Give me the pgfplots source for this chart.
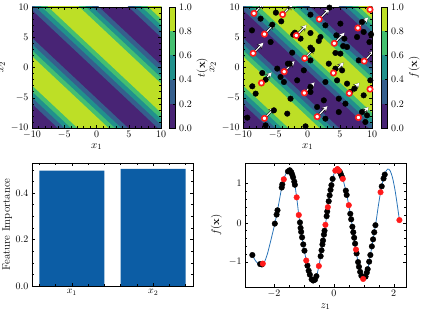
\documentclass[border=0pt]{standalone}
\usepackage{pgfplots}
\pgfplotsset{compat=1.18}
\usetikzlibrary{arrows.meta}
\definecolor{vA}{HTML}{482475}
\definecolor{vB}{HTML}{355F8D}
\definecolor{vC}{HTML}{21918C}
\definecolor{vD}{HTML}{44BF70}
\definecolor{vE}{HTML}{BDDF26}
\definecolor{barblue}{HTML}{0C5DA5}
\definecolor{lineblue}{HTML}{2A74B8}
\definecolor{ptred}{HTML}{FF1A1A}

\pgfplotsset{
  base/.style={scale only axis, axis on top, tick align=inside,
    font=\fontsize{10}{11}\selectfont,
    ticklabel style={font=\fontsize{10}{11}\selectfont},
    label style={font=\fontsize{11}{12}\selectfont},
    major tick length=3bp, minor tick length=1.6bp,
    tick style={black, line width=0.4pt}},
  contourax/.style={base, width=129bp, height=121bp,
    xmin=-10, xmax=10, ymin=-10, ymax=10,
    xtick={-10,-5,0,5,10}, ytick={-10,-5,0,5,10}, minor tick num=4,
    xlabel={$x_1$}, ylabel={$x_2$},
    xlabel style={yshift=2bp}, ylabel style={yshift=-1bp}},
  cbar/.style={base, width=6.5bp, height=121bp,
    xmin=0, xmax=1, ymin=0, ymax=1, xtick=\empty,
    ytick={0,0.2,0.4,0.6,0.8,1}, ytick pos=right, yticklabel pos=right,
    minor tick num=0, ylabel style={yshift=2bp},
    yticklabel style={/pgf/number format/.cd, fixed, fixed zerofill, precision=1}},
}

\newcommand{\bands}{%
  \addplot[fill=vA, draw=none] coordinates {(-10,-10) (10,-10) (10,10) (-10,10)} -- cycle;
  % band around s = -10.55
  \addplot[fill=vB, draw=none] coordinates {(-10,-6.0) (-10,4.9) (10,-15.1) (10,-26.0)} -- cycle;
  \addplot[fill=vC, draw=none] coordinates {(-10,-4.95) (-10,3.85) (10,-16.15) (10,-24.95)} -- cycle;
  \addplot[fill=vD, draw=none] coordinates {(-10,-3.95) (-10,2.85) (10,-17.15) (10,-23.95)} -- cycle;
  \addplot[fill=vE, draw=none] coordinates {(-10,-2.95) (-10,1.85) (10,-18.15) (10,-22.95)} -- cycle;
  % band around s = 4.95
  \addplot[fill=vB, draw=none] coordinates {(-10,9.5) (-10,20.4) (10,0.4) (10,-10.5)} -- cycle;
  \addplot[fill=vC, draw=none] coordinates {(-10,10.55) (-10,19.35) (10,-0.65) (10,-9.45)} -- cycle;
  \addplot[fill=vD, draw=none] coordinates {(-10,11.55) (-10,18.35) (10,-1.65) (10,-8.45)} -- cycle;
  \addplot[fill=vE, draw=none] coordinates {(-10,12.55) (-10,17.35) (10,-2.65) (10,-7.45)} -- cycle;
  % band around s = 20.45
  \addplot[fill=vB, draw=none] coordinates {(-10,25) (-10,35.9) (10,15.9) (10,5.0)} -- cycle;
  \addplot[fill=vC, draw=none] coordinates {(-10,26.05) (-10,34.85) (10,14.85) (10,6.05)} -- cycle;
  \addplot[fill=vD, draw=none] coordinates {(-10,27.05) (-10,33.85) (10,13.85) (10,7.05)} -- cycle;
  \addplot[fill=vE, draw=none] coordinates {(-10,28.05) (-10,32.85) (10,12.85) (10,8.05)} -- cycle;
}
\newcommand{\cbarfill}{%
  \addplot[fill=vA, draw=none] coordinates {(0,0) (1,0) (1,0.2) (0,0.2)} -- cycle;
  \addplot[fill=vB, draw=none] coordinates {(0,0.2) (1,0.2) (1,0.4) (0,0.4)} -- cycle;
  \addplot[fill=vC, draw=none] coordinates {(0,0.4) (1,0.4) (1,0.6) (0,0.6)} -- cycle;
  \addplot[fill=vD, draw=none] coordinates {(0,0.6) (1,0.6) (1,0.8) (0,0.8)} -- cycle;
  \addplot[fill=vE, draw=none] coordinates {(0,0.8) (1,0.8) (1,1) (0,1)} -- cycle;
}

\pgfplotstableread{
x y
-7.27 8.07
-8.61 6.14
-4.07 7.63
-4.90 9.06
0.46 8.73
2.78 6.97
3.40 9.90
5.10 7.25
8.45 7.52
9.85 5.48
-5.72 4.21
-1.96 5.76
-2.22 5.43
-1.08 4.77
0.46 5.70
2.01 5.04
1.75 4.38
4.48 5.32
5.72 4.77
5.52 3.55
6.13 3.39
4.33 2.40
5.10 2.29
0.46 3.28
0.72 2.95
-2.37 2.45
7.68 5.04
8.71 5.87
7.94 1.18
9.60 4.20
-4.69 -0.19
-3.04 0.63
-2.78 0.63
-0.57 -0.47
0.46 1.18
3.30 0.63
4.33 -0.19
5.36 -0.47
-7.01 -0.91
-6.49 -2.01
-8.56 -3.11
-4.18 -1.57
-3.66 -2.40
-1.60 -2.12
0.46 -3.22
2.78 -2.40
4.59 -2.12
6.13 -2.67
7.27 -3.50
9.74 -2.12
-8.04 -4.32
-2.63 -5.15
0.46 -4.05
2.53 -5.43
4.85 -5.15
6.65 -4.05
8.71 -4.60
5.88 -5.98
1.49 -6.53
-3.14 -7.63
-5.21 -7.08
2.78 -8.46
4.85 -7.36
8.45 -7.36
9.23 -7.91
8.97 -9.01
-9.33 -8.29
-6.49 -9.56
-0.31 -9.72
-5.46 7.08
}\blackpts

\pgfplotstableread{
x y
-8.30 8.95
-3.86 8.76
1.82 7.98
9.69 9.58
-6.68 5.51
-1.73 5.29
7.81 6.53
-8.43 2.35
4.15 4.00
-0.44 1.52
8.79 1.05
-3.61 -0.69
4.02 -0.91
-7.14 -2.56
-0.49 -4.21
6.47 -4.27
9.69 -3.58
-6.68 -8.40
1.50 -8.13
7.89 -8.27
}\redpts

\pgfplotstableread{
z f
-2.72 -0.82
-2.46 -1.05
-2.40 -1.06
-1.97 -0.02
-1.91 0.21
-1.88 0.32
-1.74 0.90
-1.72 0.98
-1.53 1.31
-1.47 1.34
-1.42 1.29
-1.39 1.23
-1.36 1.16
-1.32 1.05
-1.30 0.97
-1.13 0.01
-1.11 -0.13
-1.09 -0.23
-1.06 -0.37
-1.02 -0.55
-0.98 -0.71
-0.88 -1.09
-0.84 -1.22
-0.80 -1.32
-0.74 -1.44
-0.69 -1.47
-0.63 -1.45
-0.58 -1.36
-0.44 -0.85
-0.41 -0.70
-0.38 -0.55
-0.36 -0.45
-0.33 -0.30
-0.31 -0.20
-0.24 0.17
-0.22 0.29
-0.17 0.55
-0.14 0.70
-0.11 0.84
-0.08 0.96
-0.04 1.12
0.13 1.36
0.20 1.30
0.24 1.23
0.28 1.16
0.40 0.82
0.43 0.71
0.55 0.23
0.58 0.09
0.62 -0.10
0.65 -0.24
0.68 -0.38
0.71 -0.53
0.76 -0.78
0.81 -1.00
0.84 -1.12
0.88 -1.25
0.92 -1.35
1.06 -1.37
1.10 -1.27
1.13 -1.18
1.18 -0.99
1.22 -0.82
1.27 -0.60
1.31 -0.42
1.35 -0.24
1.39 -0.06
1.60 0.93
1.66 1.13
1.70 1.23
}\blackline

\pgfplotstableread{
z f
-2.37 -1.04
-1.67 1.11
-1.24 0.65
-1.17 0.20
-0.92 -0.96
-0.50 -1.10
-0.28 -0.05
-0.20 0.40
0.05 1.33
0.12 1.37
0.17 1.33
0.30 1.12
0.50 0.45
0.74 -0.68
0.98 -1.43
1.56 0.78
2.19 0.07
}\redline

\begin{document}
\begin{tikzpicture}
\path[use as bounding box] (0,0) rectangle (422bp,313bp);

% ---------------- top left
\begin{axis}[contourax, at={(32bp,185bp)}, anchor=south west]
\bands
\end{axis}
\begin{axis}[cbar, at={(169bp,185bp)}, anchor=south west, ylabel={$t(\mathbf{x})$}]
\cbarfill
\end{axis}

% ---------------- top right
\begin{axis}[contourax, at={(243bp,185bp)}, anchor=south west]
\bands
\addplot[only marks, mark=*, mark size=2.8pt, black] table {\blackpts};
\addplot[only marks, mark=*, mark size=2.7pt, mark options={draw=ptred, fill=white, line width=1.6pt}] table {\redpts};
\addplot[black, line width=2.2pt, -{Stealth[length=6pt,width=6.4pt]}, quiver={u=1.6,v=1.75, every arrow/.append style={line width=2.2pt}}] table {\redpts};
\addplot[white, line width=1.1pt, -{Stealth[length=5pt,width=5pt]}, quiver={u=1.6,v=1.75, every arrow/.append style={line width=1.1pt}}] table {\redpts};
\end{axis}
\begin{axis}[cbar, at={(381bp,185bp)}, anchor=south west, ylabel={$f(\mathbf{x})$}]
\cbarfill
\end{axis}

% ---------------- bottom left
\begin{axis}[base, at={(32bp,27bp)}, anchor=south west, width=161bp, height=123bp,
  xmin=-0.49, xmax=1.49, ymin=0, ymax=0.529,
  xtick={0,1}, xticklabels={$x_1$,$x_2$},
  minor xtick={-0.4,-0.2,0.2,0.4,0.6,0.8,1.2,1.4},
  ytick={0,0.2,0.4}, minor ytick={0.05,0.1,0.15,0.25,0.3,0.35,0.45,0.5},
  yticklabel style={/pgf/number format/.cd, fixed, fixed zerofill, precision=1},
  ylabel={Feature Importance}, ylabel style={yshift=-3bp}]
\addplot[ybar, bar width=0.8, fill=barblue, draw=none] coordinates {(0,0.496) (1,0.504)};
\end{axis}

% ---------------- bottom right
\begin{axis}[base, at={(245bp,26bp)}, anchor=south west, width=161bp, height=124bp,
  xmin=-2.965, xmax=2.41, ymin=-1.635, ymax=1.525,
  xtick={-2,0,2}, ytick={-1,0,1},
  minor x tick num=3, minor y tick num=4,
  xlabel={$z_1$}, ylabel={$f(\mathbf{x})$}, xlabel style={yshift=1bp}]
\addplot[only marks, mark=*, mark size=2.8pt, black] table {\blackline};
\addplot[only marks, mark=*, mark size=2.8pt, ptred, mark options={draw=ptred, fill=ptred}] table {\redline};
\addplot[lineblue, line width=0.8pt, smooth] coordinates {
(-2.72,-0.82) (-2.62,-0.96) (-2.52,-1.04) (-2.42,-1.06) (-2.32,-1.00) (-2.22,-0.80)
(-2.12,-0.50) (-2.04,-0.25) (-1.97,-0.02) (-1.88,0.32) (-1.80,0.65) (-1.72,0.98)
(-1.64,1.18) (-1.56,1.30) (-1.47,1.34) (-1.40,1.26) (-1.32,1.05) (-1.24,0.65)
(-1.17,0.20) (-1.10,-0.18) (-1.02,-0.55) (-0.92,-0.96) (-0.82,-1.28) (-0.74,-1.44)
(-0.67,-1.48) (-0.60,-1.42) (-0.52,-1.18) (-0.44,-0.85) (-0.36,-0.45) (-0.28,-0.05)
(-0.20,0.40) (-0.12,0.80) (-0.04,1.12) (0.04,1.32) (0.12,1.37) (0.20,1.30)
(0.30,1.12) (0.40,0.82) (0.50,0.45) (0.60,0.00) (0.70,-0.48) (0.78,-0.88)
(0.86,-1.20) (0.93,-1.38) (1.00,-1.43) (1.07,-1.36) (1.15,-1.12) (1.23,-0.78)
(1.31,-0.42) (1.40,-0.02) (1.48,0.40) (1.56,0.78) (1.64,1.08) (1.72,1.28)
(1.80,1.37) (1.88,1.33) (1.96,1.15) (2.04,0.85) (2.12,0.45) (2.19,0.07)};
\end{axis}
\end{tikzpicture}
\end{document}
